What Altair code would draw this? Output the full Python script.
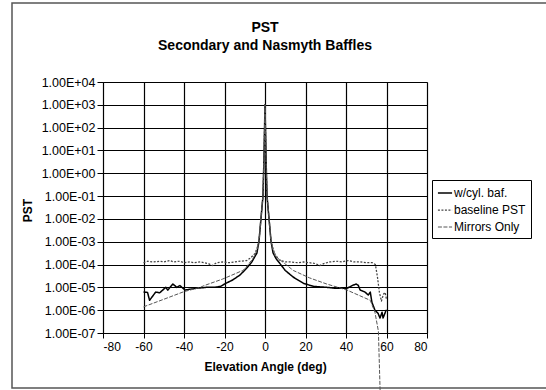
import altair as alt
import pandas as pd

# ---- data ----
series_names = ["w/cyl. baf.", "baseline PST", "Mirrors Only"]

baf_deg = [-60, -58, -57, -54, -52, -49, -48, -45.5, -43.5, -42, -39.5, -37, -34, -29, -25, -22, -20, -16, -12.3, -9, -6.5,
           -4, -3, -2, -1, -0.5, 0, 0.5, 1, 2, 3, 4, 5.5, 7.4, 10, 14, 19, 24, 30.5, 35, 40.5, 43.5, 45, 46, 47, 49.4, 51,
           52, 52.8, 54.3, 55.8, 56.8, 57.8, 58.3, 59.8, 60]
baf_val = [6.3e-6, 6.0e-6, 2.7e-6, 6.2e-6, 5.8e-6, 1.0e-5, 7.6e-6, 1.4e-5, 1.0e-5, 1.2e-5, 7.6e-6, 8.3e-6, 9.1e-6, 1.0e-5,
           1.0e-5, 1.1e-5, 1.4e-5, 2.1e-5, 3.5e-5, 7.0e-5, 1.3e-4,
           3.2e-4, 1.0e-3, 1.0e-2, 1.0e-1, 5.0, 1.0e3, 5.0, 1.0e-1, 1.0e-2, 1.0e-3, 3.2e-4, 1.8e-4, 1.1e-4, 5.5e-5, 2.8e-5,
           1.5e-5, 1.1e-5, 1.0e-5, 9.1e-6, 9.1e-6, 1.25e-5, 1.4e-5, 1.25e-5, 7.6e-6, 6.2e-6, 4.6e-6,
           6.2e-6, 2.2e-6, 1.0e-6, 7.4e-7, 4.5e-7, 8.1e-7, 4.5e-7, 1.0e-6, 1.0e-6]

base_deg = [-60, -58, -55, -52, -50, -47, -45, -42, -40, -37, -35, -32, -30, -28, -26, -24, -21, -18, -15, -12, -9, -7, -5,
            -4, -3, -2, -1, -0.5, 0, 0.5, 1, 2, 3, 4, 5, 7, 10, 13, 16, 19, 22, 25, 27, 29, 32, 35, 38, 41, 44, 47, 50,
            53, 54.5, 55.5, 56.5, 57.5, 58.5, 59.3, 60]
base_val = [1.2e-4, 1.4e-4, 1.3e-4, 1.4e-4, 1.3e-4, 1.5e-4, 1.3e-4, 1.4e-4, 1.2e-4, 1.3e-4, 1.2e-4, 1.3e-4, 1.2e-4, 1.1e-4,
            9.0e-5, 1.2e-4, 1.3e-4, 1.2e-4, 1.3e-4, 1.4e-4, 1.5e-4, 2.0e-4, 3.0e-4,
            5.0e-4, 1.0e-3, 1.0e-2, 1.0e-1, 5.0, 1.0e3, 5.0, 1.0e-1, 1.0e-2, 1.0e-3, 5.0e-4, 2.5e-4, 1.6e-4, 1.3e-4, 1.3e-4,
            1.2e-4, 1.3e-4, 1.2e-4, 1.1e-4, 9.0e-5, 1.1e-4, 1.3e-4, 1.4e-4, 1.3e-4, 1.5e-4, 1.3e-4, 1.3e-4, 1.2e-4,
            1.2e-4, 1.0e-4, 3.0e-5, 6.0e-6, 2.5e-6, 5.0e-6, 6.0e-6, 3.0e-6]

mirr_deg = [-60, -50, -40, -32, -30, -21, -20, -11, -10, -6, -4, -3, -2, -1, -0.5, 0, 0.5, 1, 2, 3, 4, 6.4, 14, 22, 30.5,
            40.5, 52, 54.3, 56, 57]
mirr_val = [1.4e-6, 3.0e-6, 6.5e-6, 1.0e-5, 1.2e-5, 2.3e-5, 2.5e-5, 5.5e-5, 6.5e-5, 1.8e-4, 4.0e-4, 1.0e-3, 1.0e-2,
            1.0e-1, 5.0, 1.0e3, 5.0, 1.0e-1, 1.0e-2, 1.0e-3, 4.0e-4, 1.9e-4, 5.5e-5, 2.6e-5, 1.4e-5,
            7.6e-6, 2.7e-6, 8.0e-7, 1.2e-7, 1.0e-10]

x_ticks = [-80, -60, -40, -20, 0, 20, 40, 60, 80]
y_ticks = [1e-7, 1e-6, 1e-5, 1e-4, 1e-3, 1e-2, 1e-1, 1e0, 1e1, 1e2, 1e3, 1e4]

rows = []
for name, xs, ys in [(series_names[0], baf_deg, baf_val),
                     (series_names[1], base_deg, base_val),
                     (series_names[2], mirr_deg, mirr_val)]:
    for i, (a, b) in enumerate(zip(xs, ys)):
        rows.append({"series": name, "deg": a, "pst": b, "order": i})
df = pd.DataFrame(rows)

FONT = "Liberation Sans"
exp_expr = "round(log(datum.value)/LN10)"
label_expr = ("'1.00E' + (" + exp_expr + " < 0 ? '-' : '+') + (abs(" + exp_expr + ") < 10 ? '0' : '') + abs(" + exp_expr + ")")
x_label_expr = "datum.value < 0 ? '-' + abs(datum.value) : '' + datum.value"

lines = alt.Chart(df).mark_line(clip=False, strokeJoin="round").encode(
    x=alt.X("deg:Q", scale=alt.Scale(domain=[-80, 80], nice=False),
            axis=alt.Axis(values=x_ticks, labelExpr=x_label_expr, title="Elevation Angle (deg)", labelFontSize=12,
                          titleFontSize=12, titleFontWeight="bold", labelPadding=3, titlePadding=9,
                          tickSize=5, domainColor="black", tickColor="black", gridColor="black",
                          gridWidth=1.2, labelColor="black", titleColor="black")),
    y=alt.Y("pst:Q", scale=alt.Scale(type="log", domain=[1e-7, 1e4], nice=False),
            axis=alt.Axis(values=y_ticks, labelExpr=label_expr, title="PST", labelFontSize=12.5,
                          titleFontSize=12, titleFontWeight="bold", tickSize=6, labelPadding=2,
                          titleX=-69, titleY=128, titleColor="black",
                          domainColor="black", tickColor="black", gridColor="black", gridWidth=1.2,
                          labelColor="black")),
    color=alt.Color("series:N", scale=alt.Scale(domain=series_names, range=["#000000", "#444444", "#555555"]),
                    legend=alt.Legend(title=None, orient="none", legendX=329, legendY=98,
                                      strokeColor="black", padding=5, labelFontSize=12,
                                      labelColor="black", symbolType="stroke", symbolSize=200,
                                      symbolStrokeWidth=1.3, rowPadding=3, labelOffset=1,
                                      cornerRadius=0)),
    strokeDash=alt.StrokeDash("series:N", scale=alt.Scale(domain=series_names,
                                                          range=[[1, 0], [2, 1.5], [4, 1.5]]),
                              legend=None),
    strokeWidth=alt.StrokeWidth("series:N", scale=alt.Scale(domain=series_names, range=[1.5, 1.0, 1.0]),
                                legend=None),
    order="order:Q",
    detail="series:N",
)

frame = alt.Chart(pd.DataFrame({"k": [0]})).mark_rect(
    clip=False, fill=None, stroke="#555555", strokeWidth=1.5, fillOpacity=0
).encode(
    x=alt.value(12 - 103), x2=alt.value(600 - 103),
    y=alt.value(3 - 82), y2=alt.value(388 - 82),
)

chart = alt.layer(frame, lines).properties(
    width=324, height=251,
    title=alt.TitleParams(text=["PST", "Secondary and Nasmyth Baffles"], fontSize=14, font=FONT,
                          fontWeight="bold", anchor="middle", frame="group", offset=0, dy=51, lineHeight=18,
                          color="black"),
    autosize=alt.AutoSizeParams(type="none"),
    padding={"left": 103, "top": 82, "right": 119, "bottom": 57},
).configure(font=FONT, background="white").configure_view(
    stroke="#555555", strokeDash=[1, 1], strokeWidth=1
).configure_axis(labelFont=FONT, titleFont=FONT)

chart.save("out.html", embed_options={"renderer": "svg", "actions": False})
